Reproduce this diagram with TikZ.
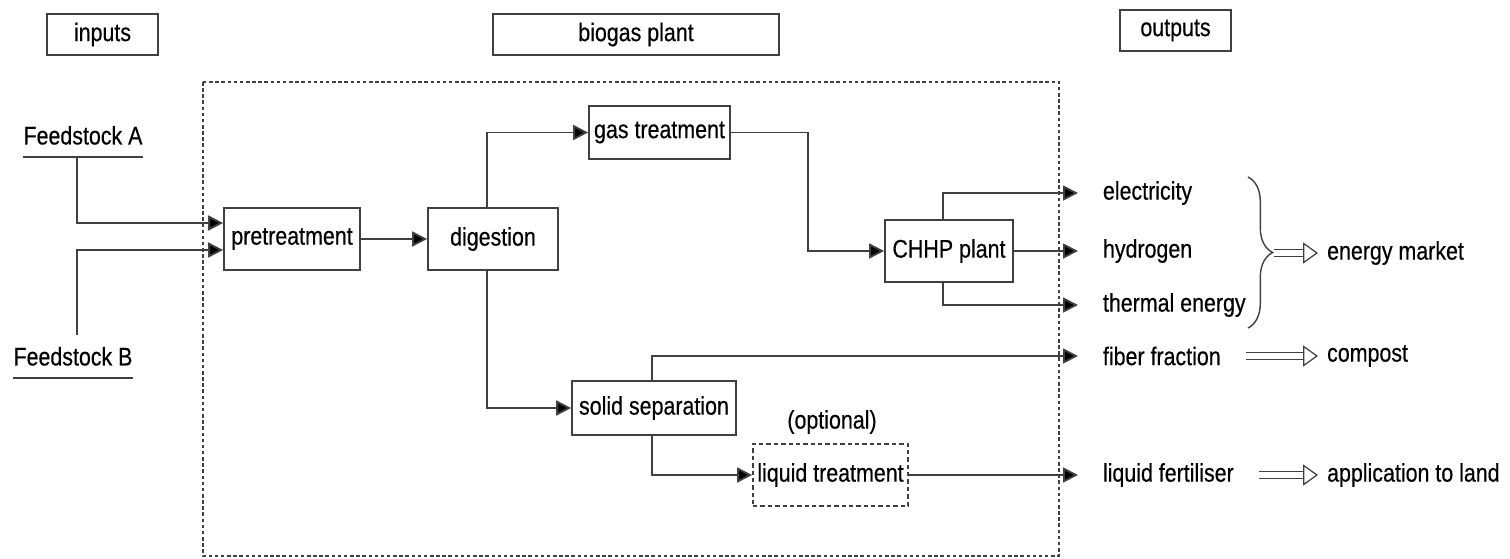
\documentclass[tikz,border=0pt]{standalone}
\usepackage{fontspec}
\setmainfont{Liberation Sans}[FakeStretch=0.84, FakeBold=0.4]
\usetikzlibrary{arrows.meta,calc,positioning,decorations.pathreplacing}
\tikzset{
  blk/.style={draw=black!75, line width=1pt, inner sep=0pt, minimum height=1.24cm},
  hdr/.style={blk, minimum height=0.82cm},
  optblk/.style={blk, dash pattern=on 2.5pt off 1.7pt},
  flow/.style={draw=black!75, line width=1.05pt, -{Triangle[length=8.5pt,width=8.5pt,fill=black]}},
  hollow/.style={draw=black!75, line width=0.7pt, double=white, double distance=3pt,
    -{Triangle[open, fill=white, length=8.5pt, width=12pt, line width=0.7pt]}},
  feed/.style={anchor=south, inner xsep=0pt, inner ysep=6.8pt},
  outtxt/.style={anchor=west, inner xsep=14pt, inner ysep=2pt},
  endtxt/.style={anchor=west, inner xsep=5pt, inner ysep=2pt},
}
\begin{document}
\begin{tikzpicture}[x=0.02cm, y=-0.02cm, font=\fontsize{14.5}{17}\selectfont]
\useasboundingbox (0,0) rectangle (1510,558);

% Headers
\node[hdr, minimum width=2.22cm] (inputs) at (102.5,34.5) {inputs};
\node[hdr, minimum width=5.72cm] (plant) at (636,34.5) {biogas plant};
\node[hdr, minimum width=2.22cm] (outputs) at (1175.5,30.5) {outputs};

% Plant boundary
\draw[black!75, line width=0.8pt, dash pattern=on 2pt off 1.5pt] (203,82) rectangle (1059,556);

% Feedstocks
\node[feed] (feedA) at (83,157) {Feedstock A};
\node[feed] (feedB) at (73,378) {Feedstock B};
\draw[black!75, line width=1pt] (feedA.south west) -- (feedA.south east);
\draw[black!75, line width=1pt] (feedB.south west) -- (feedB.south east);

% Process units
\node[blk, minimum width=2.72cm] (pre) at (292,239) {pretreatment};
\node[blk, minimum width=2.6cm] (dig) at (493,239) {digestion};
\node[blk, minimum width=2.82cm, minimum height=1.06cm] (gas) at (659.5,132.5) {gas treatment};
\node[blk, minimum width=2.56cm] (chhp) at (949,251) {CHHP plant};
\node[blk, minimum width=3.28cm, minimum height=1.08cm] (solid) at (654,408) {solid separation};
\node[optblk, minimum width=3.1cm] (liquid) at (830.5,475) {liquid treatment};
\node (opt) at (832,422) {(optional)};

% Outputs
\node[outtxt] (elec) at (1078,193) {electricity};
\node[outtxt] (hyd) at (1078,251) {hydrogen};
\node[outtxt] (therm) at (1078,305) {thermal energy};
\node[outtxt] (fiber) at (1078,356) {fiber fraction};
\node[outtxt] (fert) at (1078,475) {liquid fertiliser};
\node[endtxt] (energy) at (1318,253) {energy market};
\node[endtxt] (compost) at (1318,356) {compost};
\node[endtxt] (land) at (1318,475) {application to land};

% Connectors
\draw[flow] ($(feedA.south)+(-6,0)$) |- ($(pre.west)+(0,-16)$);
\draw[flow] ($(feedB.north)+(4,0)$) |- ($(pre.west)+(0,11)$);
\draw[flow] (pre) -- (dig);
\draw[flow] ($(dig.north)+(-6,0)$) |- (gas.west);
\draw[flow] ($(dig.south)+(-6,0)$) |- (solid.west);
\draw[flow] (gas.east) -- ++(77,0) |- (chhp.west);
\draw[flow] ($(chhp.north)+(-6,0)$) |- (elec.west);
\draw[flow] (chhp) -- (hyd);
\draw[flow] ($(chhp.south)+(-6,0)$) |- (therm.west);
\draw[flow] ($(solid.north)+(-2,0)$) |- (fiber.west);
\draw[flow] ($(solid.south)+(-2,0)$) |- (liquid.west);
\draw[flow] (liquid) -- (fert);

% Brace and markets
\draw[black!75, line width=0.8pt, decorate, decoration={brace, amplitude=14pt}] (1248,177) -- (1248,328);
\coordinate (brc) at (1274,253);
\draw[hollow] (brc) -- (energy.west);
\draw[hollow] (fiber) -- (compost);
\draw[hollow] (fert) -- (land);
\end{tikzpicture}
\end{document}
